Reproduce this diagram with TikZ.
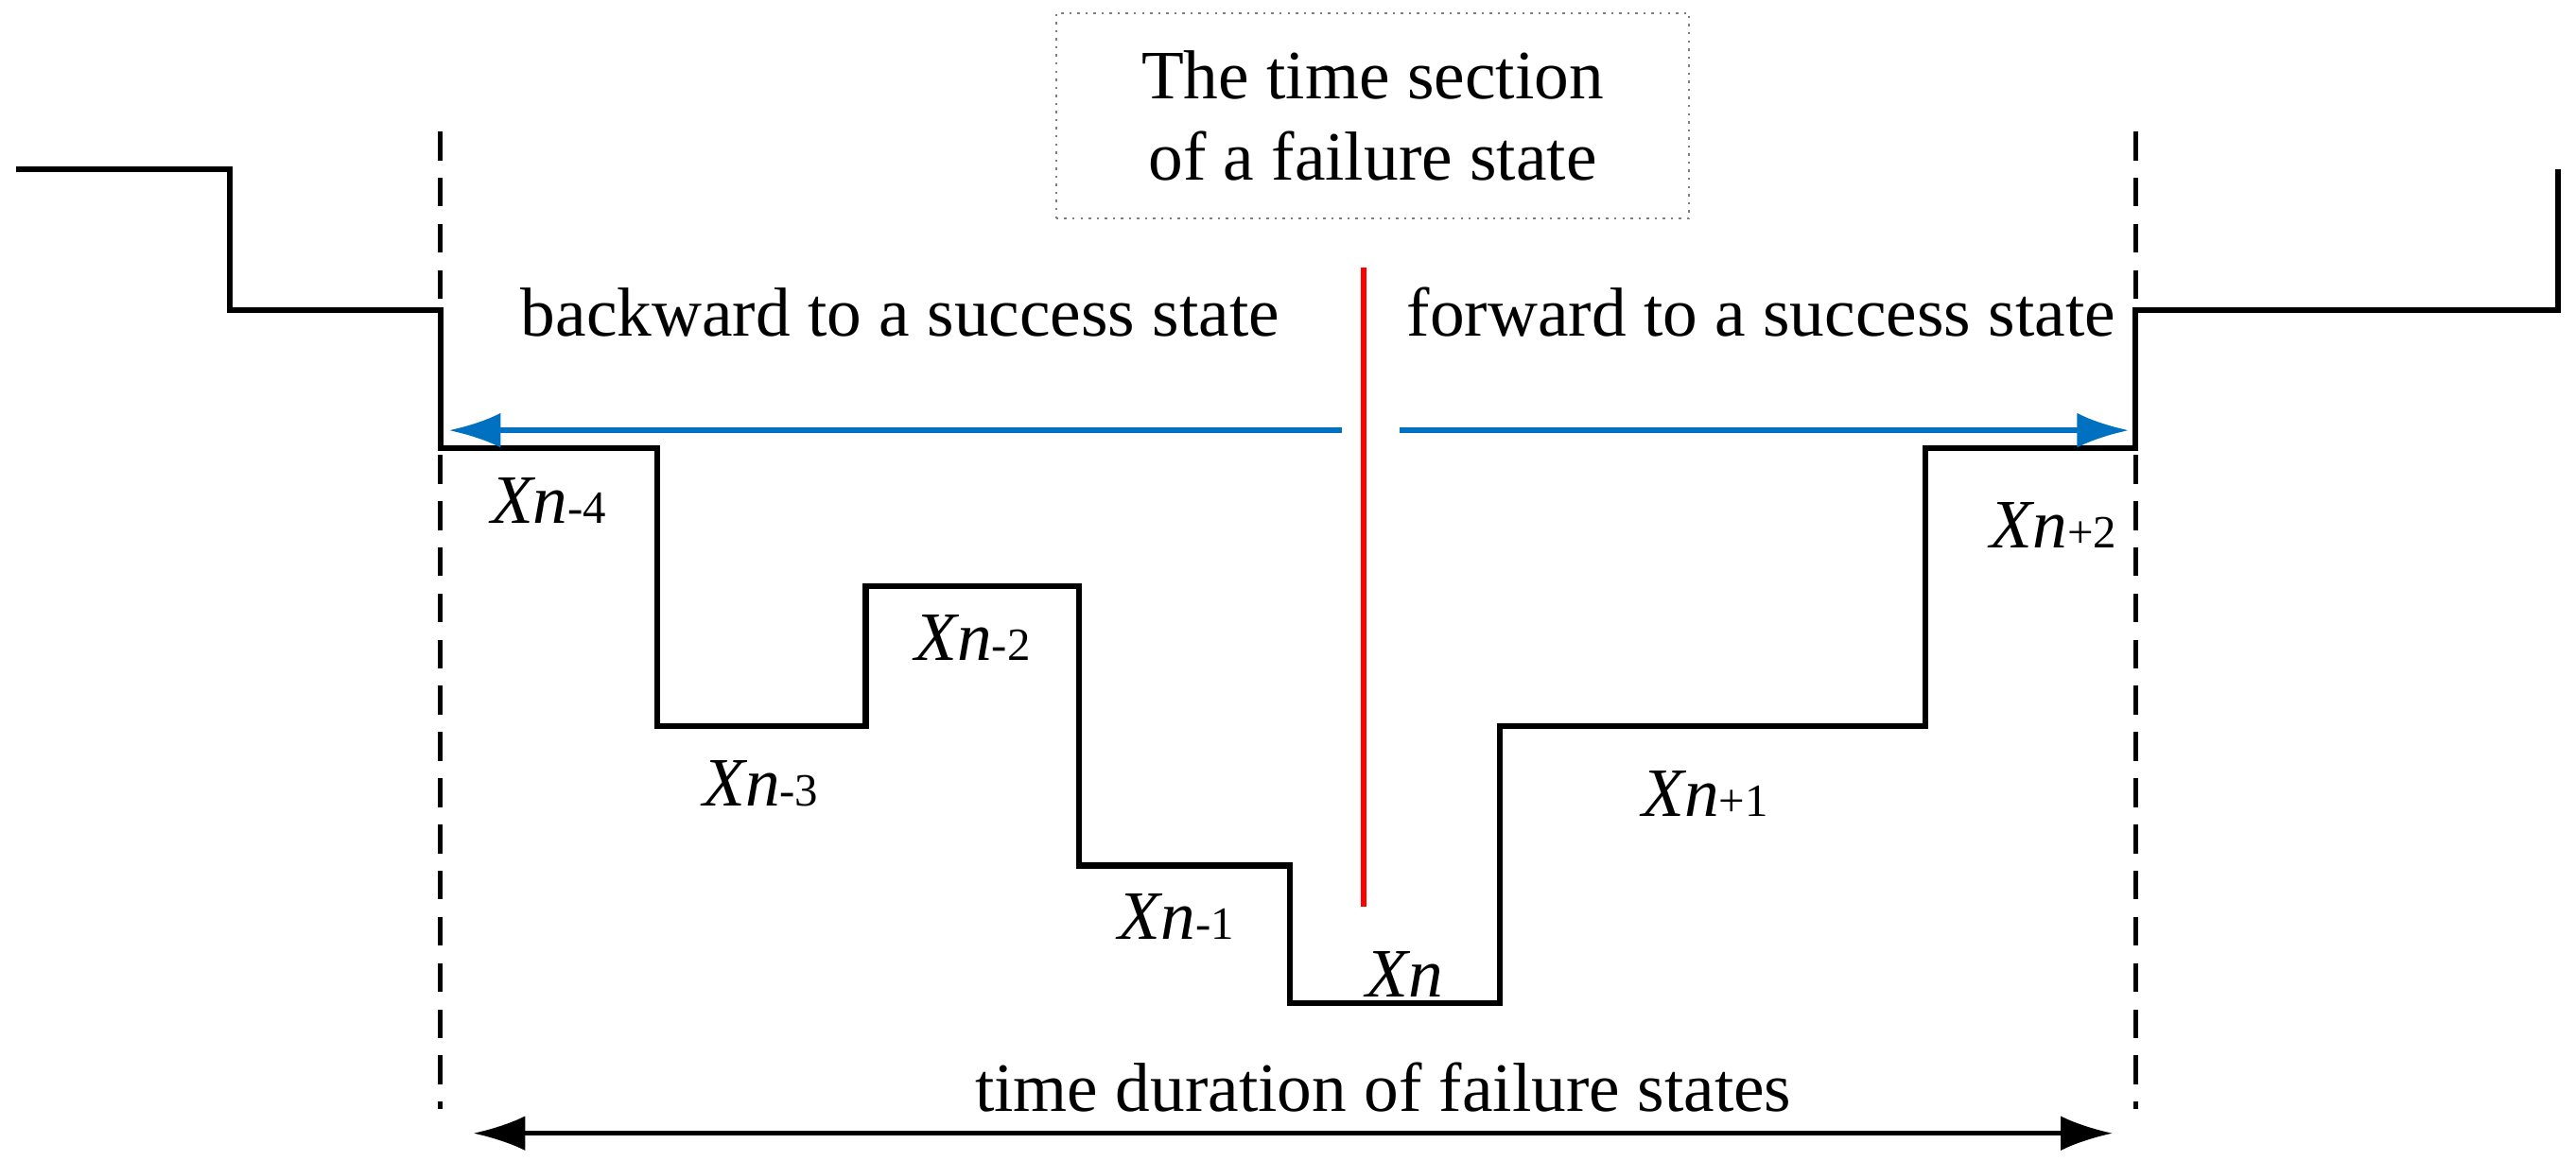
\documentclass[tikz,border=0pt]{standalone}
\usepackage{fontspec}
\setmainfont{Liberation Serif}
\usetikzlibrary{arrows.meta}
\begin{document}
\begin{tikzpicture}[x=0.01cm,y=-0.01cm,
  lbl/.style={font=\fontsize{12}{14}\selectfont},
  st/.style={font=\fontsize{12}{14}\selectfont},
  vdash/.style={line width=0.7pt,dash pattern=on 5pt off 3pt},
  blue arr/.style={-{Latex[length=9pt,width=6pt]},line width=1pt,color={rgb,255:red,0;green,112;blue,192}},
  blk arr/.style={{Latex[length=9pt,width=6pt]}-{Latex[length=9pt,width=6pt]},line width=0.8pt}]
\useasboundingbox (0,0) rectangle (1568,706.4);
\draw[line width=1pt] (10,103)--(140,103)--(140,189)--(268,189)--(268,273)--(400,273)--(400,442)--(527,442)--(527,357)--(657,357)--(657,527)--(785,527)--(785,611)--(913,611)--(913,442)--(1172,442)--(1172,273)--(1300,273)--(1300,189)--(1557,189)--(1557,103);
\coordinate (dl1) at (268,80); \coordinate (dl2) at (268,675);
\coordinate (dr1) at (1300,80); \coordinate (dr2) at (1300,675);
\draw[vdash] (dl1)--(dl2);
\draw[vdash] (dr1)--(dr2);
\node[draw=gray,densely dotted,inner sep=0,lbl,align=center,minimum width=3.85cm,minimum height=1.25cm] (box) at (835.5,70.5) {The time section\\of a failure state};
\coordinate (r1) at (830,163); \coordinate (r2) at (830,552);
\draw[red,line width=1pt] (r1)--(r2);
\coordinate (b1) at (817,262); \coordinate (b2) at (273,262);
\coordinate (f1) at (852,262); \coordinate (f2) at (1296,262);
\draw[blue arr] (b1)--(b2);
\draw[blue arr] (f1)--(f2);
\node[st] (bt) at (548,190) {backward to a success state};
\node[st] (ft) at (1072,190) {forward to a success state};
\coordinate (t1) at (288,690); \coordinate (t2) at (1286,690);
\draw[blk arr] (t1)--(t2);
\node[st] (td) at (842,662) {time duration of failure states};
\newcommand{\xl}[1]{{\itshape Xn}{\fontsize{8}{9}\selectfont #1}}
\node[lbl] (x4) at (334,305) {\xl{-4}};
\node[lbl] (x3) at (463,477) {\xl{-3}};
\node[lbl] (x2) at (592,388) {\xl{-2}};
\node[lbl] (x1) at (716,558) {\xl{-1}};
\node[lbl] (x0) at (855,593) {\itshape Xn};
\node[lbl] (y1) at (1038,483) {\xl{+1}};
\node[lbl] (y2) at (1250,320) {\xl{+2}};
\end{tikzpicture}
\end{document}
